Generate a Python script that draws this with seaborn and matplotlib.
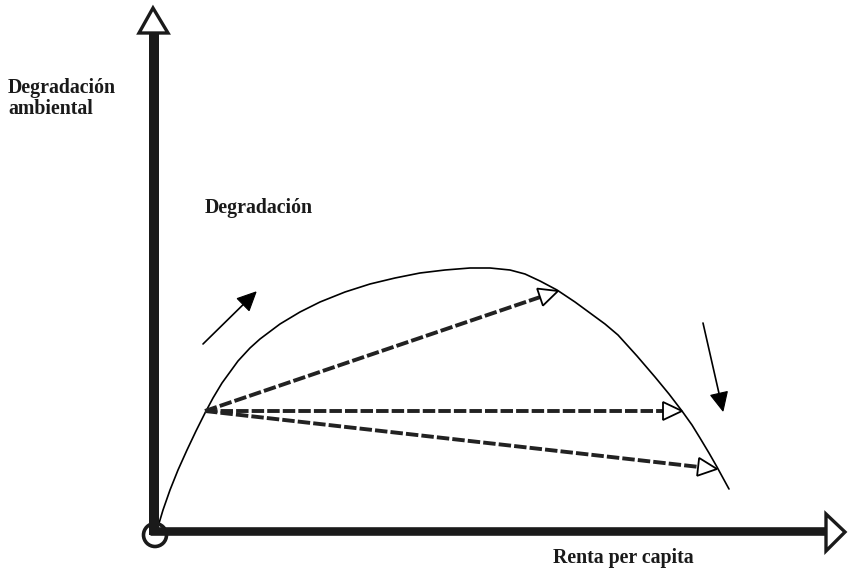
import numpy as np
import pandas as pd
import matplotlib
matplotlib.use("Agg")
import matplotlib.pyplot as plt
from matplotlib.patches import Polygon, Circle
import seaborn as sns

curva_x = [157, 163, 170, 178, 187, 196, 205, 213, 222, 238, 250, 260, 280, 300, 320, 345, 370,
           395, 420, 445, 470, 490, 510, 525, 540, 557, 575, 590, 605, 618, 637, 655, 669,
           682, 692, 700, 709, 717, 729]
curva_y = [530, 510, 490, 470, 450, 431, 413, 398, 383, 361, 348, 339, 324, 312, 302, 292, 284,
           278, 273, 270, 268, 268, 270, 274, 281, 290, 302, 313, 324, 335, 356, 377, 394,
           411, 425, 438, 453, 467, 489]

# flechas discontinuas: origen comun y puntas
flecha_origen = (205, 411)
flecha_puntas_x = [558, 682, 717]
flecha_puntas_y = [291, 411, 469]

# flechas pequenas (inicio, punta)
pequenas = [((203, 344), (256, 292)), ((703, 323), (723, 411))]

# ejes
origen = (154, 531)
eje_y_fin = (154, 33)
eje_x_fin = (826, 531)

etiquetas = ["Degradación", "ambiental", "Degradación", "Renta per capita"]
etiq_x = [8, 8, 205, 553]
etiq_y = [93, 114, 213, 563]

sns.set_style("white")
plt.rcParams['font.family'] = ['Liberation Serif', 'DejaVu Serif']

fig = plt.figure(figsize=(8.48, 5.69), dpi=100)
ax = fig.add_axes([0, 0, 1, 1])
ax.set_xlim(0, 848)
ax.set_ylim(569, 0)
ax.axis('off')


def cabeza(punta, desde, largo, ancho):
    p = np.array(punta, float)
    d = p - np.array(desde, float)
    u = d / np.linalg.norm(d)
    n = np.array([-u[1], u[0]])
    base = p - largo * u
    return np.array([p, base + ancho * n, base - ancho * n]), base


# curva
df = pd.DataFrame({"x": curva_x, "y": curva_y})
sns.lineplot(data=df, x="x", y="y", sort=False, color="black", lw=1.2, ax=ax)

# flechas discontinuas con cabeza hueca
for px, py in zip(flecha_puntas_x, flecha_puntas_y):
    tri, base = cabeza((px, py), flecha_origen, 19, 9)
    seg = pd.DataFrame({"x": [flecha_origen[0], base[0]], "y": [flecha_origen[1], base[1]]})
    sns.lineplot(data=seg, x="x", y="y", sort=False, color="#222222", lw=2.8,
                 linestyle=(0, (3.2, 0.8)), ax=ax)
    ax.add_patch(Polygon(tri, closed=True, fc="white", ec="black", lw=1.3, zorder=4))

# flechas pequenas rellenas
for ini, fin in pequenas:
    tri, base = cabeza(fin, ini, 18, 8.5)
    seg = pd.DataFrame({"x": [ini[0], base[0]], "y": [ini[1], base[1]]})
    sns.lineplot(data=seg, x="x", y="y", sort=False, color="black", lw=1.2, ax=ax)
    ax.add_patch(Polygon(tri, closed=True, fc="black", ec="black", lw=0.8, zorder=4))

# ejes gruesos con cabezas huecas
ax.plot([origen[0], eje_y_fin[0]], [origen[1] + 4, eje_y_fin[1]], color="#1a1a1a", lw=7.2,
        solid_capstyle="butt", zorder=5)
ax.plot([origen[0] - 4, eje_x_fin[0]], [origen[1], eje_x_fin[1]], color="#1a1a1a", lw=6.2,
        solid_capstyle="butt", zorder=5)
ax.add_patch(Polygon([[139, 33], [168, 33], [153, 8]], closed=True, fc="white", ec="#1a1a1a",
                     lw=2.4, zorder=6, joinstyle="miter"))
ax.add_patch(Polygon([[826, 514], [826, 551], [845, 532]], closed=True, fc="white", ec="#1a1a1a",
                     lw=2.4, zorder=6, joinstyle="miter"))
ax.add_patch(Circle((155, 535), 11.5, fc="none", ec="#1a1a1a", lw=2.6, zorder=6))

for t, x, y in zip(etiquetas, etiq_x, etiq_y):
    ax.text(x, y, t, fontsize=14.3, fontweight="bold", color="#1a1a1a", va="baseline", ha="left")

fig.savefig("out.png", dpi=100)
